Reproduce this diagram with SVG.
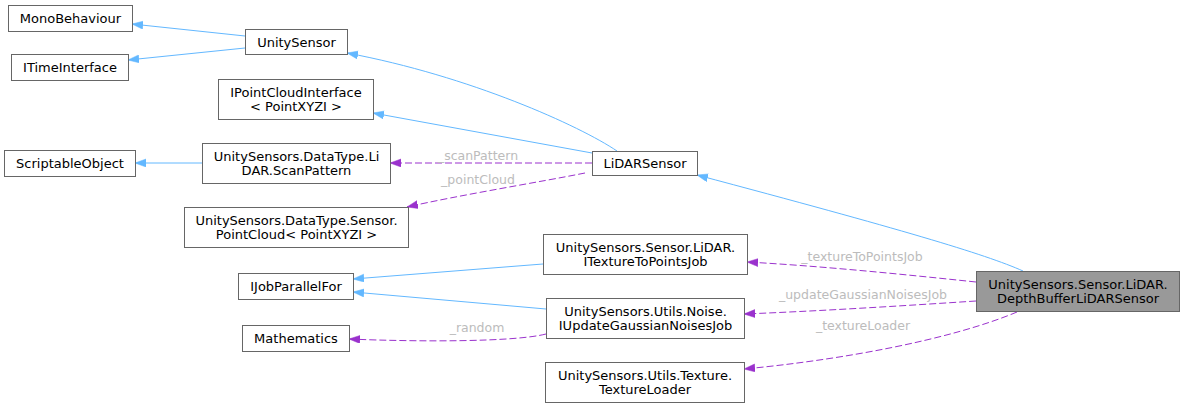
<svg xmlns="http://www.w3.org/2000/svg" width="1184" height="407" viewBox="0 0 1184 407">
<style>
.n rect{fill:#ffffff;stroke:#666666;stroke-width:1}
.n.hl rect{fill:#999999}
text{font-family:"DejaVu Sans","Liberation Sans",sans-serif;font-size:13px;fill:#000000;text-anchor:middle}
.lbl{fill:#bcbcbc;font-size:12.5px}
.inh{fill:none;stroke:#63b8ff;stroke-width:1}
.use{fill:none;stroke:#9a32cd;stroke-width:1;stroke-dasharray:7,3}
</style>
<defs>
<marker id="ab" markerUnits="userSpaceOnUse" markerWidth="12" markerHeight="9" refX="11" refY="4" orient="auto"><path d="M0,0 L11,4 L0,8 z" fill="#63b8ff" stroke="#63b8ff" stroke-width="0.5"/></marker>
<marker id="ap" markerUnits="userSpaceOnUse" markerWidth="12" markerHeight="9" refX="11" refY="4" orient="auto"><path d="M0,0 L11,4 L0,8 z" fill="#9a32cd" stroke="#9a32cd" stroke-width="0.5"/></marker>
</defs>
<rect width="1184" height="407" fill="#ffffff"/>
<g id="edges">
<path class="inh" d="M245,36 L132,24" marker-end="url(#ab)"/>
<path class="inh" d="M245,48 L128,60" marker-end="url(#ab)"/>
<path class="inh" d="M617,151 C580,126 470,76 347,53" marker-end="url(#ab)"/>
<path class="inh" d="M592,153 L373,113" marker-end="url(#ab)"/>
<path class="use" d="M592,163 L390,163" marker-end="url(#ap)"/>
<text class="lbl" x="478" y="160">_scanPattern</text>
<path class="use" d="M585,173 C540,182 460,195 407,207" marker-end="url(#ap)"/>
<text class="lbl" x="478" y="184">_pointCloud</text>
<path class="inh" d="M202,163 L135,163" marker-end="url(#ab)"/>
<path class="inh" d="M1023,271 C985,254 900,229 697,175" marker-end="url(#ab)"/>
<path class="use" d="M976,282 C900,274 820,266 747,262" marker-end="url(#ap)"/>
<text class="lbl" x="862" y="261">_textureToPointsJob</text>
<path class="use" d="M976,301 C900,306 820,311 744,314" marker-end="url(#ap)"/>
<text class="lbl" x="863" y="299">_updateGaussianNoisesJob</text>
<path class="use" d="M1017,312 C950,340 840,360 744,369" marker-end="url(#ap)"/>
<text class="lbl" x="863" y="330">_textureLoader</text>
<path class="inh" d="M543,264 L353,279" marker-end="url(#ab)"/>
<path class="inh" d="M546,309 L353,292" marker-end="url(#ab)"/>
<path class="use" d="M546,334 C515,342 420,342 349,339" marker-end="url(#ap)"/>
<text class="lbl" x="477" y="332">_random</text>
</g>
<g id="MonoBehaviour" class="n"><rect x="8.5" y="5.5" width="124" height="26"/><text x="70.5" y="23">MonoBehaviour</text></g>
<g id="ITimeInterface" class="n"><rect x="11.5" y="54.5" width="117" height="26"/><text x="70" y="72">ITimeInterface</text></g>
<g id="UnitySensor" class="n"><rect x="245.5" y="29.5" width="102" height="25"/><text x="296.5" y="46.5">UnitySensor</text></g>
<g id="IPointCloudInterface" class="n"><rect x="218.5" y="79.5" width="155" height="40"/><text x="296" y="97">IPointCloudInterface</text><text x="296" y="111">&lt; PointXYZI &gt;</text></g>
<g id="ScriptableObject" class="n"><rect x="4.5" y="150.5" width="131" height="26"/><text x="70" y="168">ScriptableObject</text></g>
<g id="ScanPattern" class="n"><rect x="202.5" y="143.5" width="188" height="40"/><text x="296.5" y="161">UnitySensors.DataType.Li</text><text x="296.5" y="175">DAR.ScanPattern</text></g>
<g id="PointCloud" class="n"><rect x="184.5" y="207.5" width="224" height="40"/><text x="296.5" y="225">UnitySensors.DataType.Sensor.</text><text x="296.5" y="239">PointCloud&lt; PointXYZI &gt;</text></g>
<g id="IJobParallelFor" class="n"><rect x="238.5" y="273.5" width="115" height="26"/><text x="296" y="291">IJobParallelFor</text></g>
<g id="Mathematics" class="n"><rect x="242.5" y="325.5" width="107" height="26"/><text x="296" y="343">Mathematics</text></g>
<g id="LiDARSensor" class="n"><rect x="592.5" y="151.5" width="105" height="24"/><text x="645" y="168">LiDARSensor</text></g>
<g id="ITextureToPointsJob" class="n"><rect x="543.5" y="234.5" width="204" height="40"/><text x="645.5" y="252">UnitySensors.Sensor.LiDAR.</text><text x="645.5" y="266">ITextureToPointsJob</text></g>
<g id="IUpdateGaussianNoisesJob" class="n"><rect x="546.5" y="298.5" width="198" height="40"/><text x="645.5" y="316">UnitySensors.Utils.Noise.</text><text x="645.5" y="330">IUpdateGaussianNoisesJob</text></g>
<g id="TextureLoader" class="n"><rect x="545.5" y="362.5" width="199" height="40"/><text x="645" y="380">UnitySensors.Utils.Texture.</text><text x="645" y="394">TextureLoader</text></g>
<g id="DepthBufferLiDARSensor" class="n hl"><rect x="976.5" y="271.5" width="203" height="40"/><text x="1078" y="289">UnitySensors.Sensor.LiDAR.</text><text x="1078" y="303">DepthBufferLiDARSensor</text></g>
</svg>
